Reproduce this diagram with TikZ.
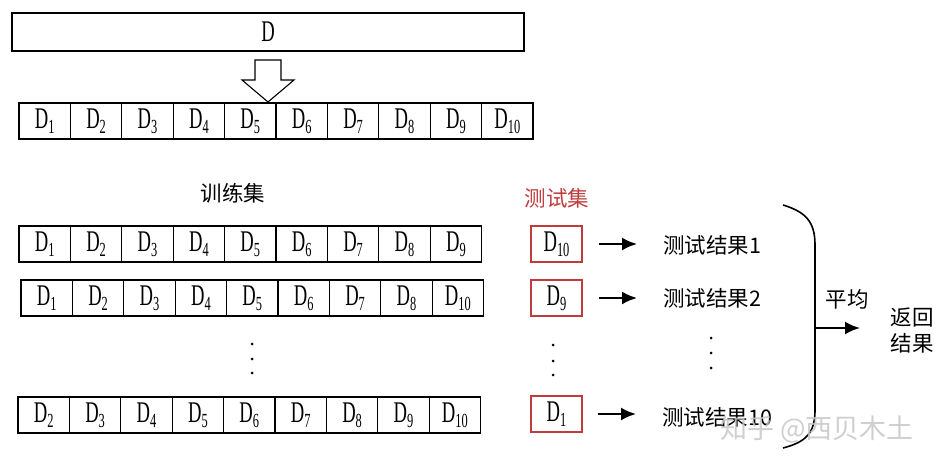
\documentclass[tikz,border=0pt]{standalone}
\usepackage{fontspec}
\setmainfont{Liberation Serif}
\newfontfamily\dfont[FakeStretch=0.62]{Liberation Serif}
\newfontfamily\cjk{Noto Sans CJK SC}
\usetikzlibrary{arrows.meta}
\definecolor{tred}{RGB}{192,60,60}
\newcommand\Dn[1]{{\dfont\fontsize{30}{30}\selectfont D\raisebox{-0.18em}{\fontsize{20}{20}\selectfont #1}}}
\begin{document}
\begin{tikzpicture}[x=1pt,y=-1pt,
  cell/.style={draw, line width=1.3pt, minimum width=51.4pt, minimum height=36pt, inner sep=0pt, anchor=center},
  redcell/.style={cell, draw=tred, minimum width=51pt},
  cn/.style={font=\cjk\fontsize{21.5}{24}\selectfont, inner sep=0pt},
  arr/.style={line width=2.2pt, -{Latex[length=15pt,width=13pt]}},
  dot/.style={fill=black, circle, inner sep=0pt, minimum size=3pt}]
\useasboundingbox (0,0) rectangle (941,465);
\fill[white] (0,0) rectangle (941,465);
% top box
\node[draw, line width=1.2pt, minimum width=512pt, minimum height=38pt, inner sep=0pt] (topD) at (268,32) {{\dfont\fontsize{30}{30}\selectfont D}};
% block arrow
\draw[line width=1.1pt, fill=white] (255,60) -- (281,60) -- (281,80) -- (294,80) -- (268,102) -- (242,80) -- (255,80) -- cycle;
% row 0
\foreach \i in {1,...,10}
  \node[cell] (a\i) at ({19+51.4*(\i-0.5)},121) {\Dn{\i}};
% labels
\node[cn] (train) at (233,193) {训练集};
\node[cn, text=tred] (test) at (557,198) {测试集};
% row 1
\foreach \i in {1,...,9}
  \node[cell] (b\i) at ({19+51.4*(\i-0.5)},244) {\Dn{\i}};
% row 2
\foreach \i/\l in {1/1,2/2,3/3,4/4,5/5,6/6,7/7,8/8,9/10}
  \node[cell] (c\i) at ({21+51.4*(\i-0.5)},298) {\Dn{\l}};
% row 3
\foreach \i/\l in {1/2,2/3,3/4,4/5,5/6,6/7,7/8,8/9,9/10}
  \node[cell] (d\i) at ({18+51.4*(\i-0.5)},415) {\Dn{\l}};
% dots
\node[dot] (v1) at (252,344) {};
\node[dot] (v2) at (252,359) {};
\node[dot] (v3) at (252,373) {};
\node[dot] (w1) at (553,345) {};
\node[dot] (w2) at (553,361) {};
\node[dot] (w3) at (553,375) {};
\node[dot] (u1) at (711,338) {};
\node[dot] (u2) at (711,353) {};
\node[dot] (u3) at (711,368) {};
% test cells
\node[redcell] (t1) at (556.5,244) {\Dn{10}};
\node[redcell] (t2) at (556.5,298) {\Dn{9}};
\node[redcell] (t3) at (556.5,414) {\Dn{1}};
% results
\node[cn, anchor=west] (r1) at (663,245) {测试结果1};
\node[cn, anchor=west] (r2) at (663,298) {测试结果2};
\node[cn, anchor=west] (r3) at (662,417) {测试结果10};
\draw[arr] ([xshift=16pt]t1.east) -- ([xshift=-26pt]r1.west |- t1.east);
\draw[arr] ([xshift=16pt]t2.east) -- ([xshift=-26pt]r2.west |- t2.east);
\draw[arr] ([xshift=15pt]t3.east) -- ([xshift=-26pt]r3.west |- t3.east);
% bracket
\coordinate (bt) at (783,205);
\coordinate (bb) at (783,448);
\coordinate (bm) at (815,328);
\coordinate (be) at (860,328);
\draw[line width=1.6pt] (bt) .. controls (806,212) and (815,222) .. (815,245) -- (815,410) .. controls (815,433) and (806,442) .. (bb);
\draw[arr] (bm) -- (be);
\node[cn] (avg) at (847,299) {平均};
\node[cn, align=center, font=\cjk\fontsize{21.5}{26}\selectfont] (ret) at (912,330) {返回\\结果};
% watermark
\node[inner sep=0pt, text=black!22, opacity=0.85, font=\cjk\fontsize{27}{30}\selectfont] (wm) at (817,429) {知乎 @西贝木土};
\end{tikzpicture}
\end{document}
